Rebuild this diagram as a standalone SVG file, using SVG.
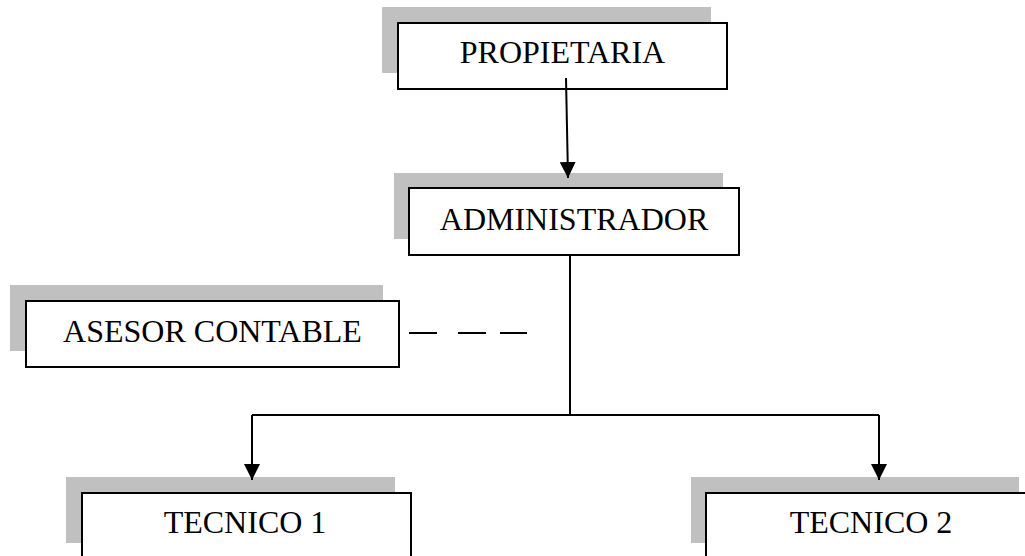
<svg xmlns="http://www.w3.org/2000/svg" width="1025" height="556" viewBox="0 0 1025 556">
  <style>
    .shadow { fill: #c0c0c0; stroke: none; }
    .box { fill: #ffffff; stroke: #000000; stroke-width: 2; }
    .label { font-family: "Liberation Serif", "Times New Roman", serif; font-size: 32px; fill: #000000; text-anchor: middle; }
    .conn { fill: none; stroke: #000000; stroke-width: 2; }
  </style>
  <defs>
    <marker id="arrow" markerUnits="userSpaceOnUse" markerWidth="16" markerHeight="16" refX="16" refY="8" orient="auto">
      <path d="M0,0 L16,8 L0,16 z" fill="#000000"/>
    </marker>
  </defs>
  <rect width="1025" height="556" fill="#ffffff"/>

  <g id="node-propietaria">
    <rect class="shadow" x="382" y="7" width="329" height="66"/>
    <rect class="box" x="398" y="23" width="329" height="66"/>
    <text class="label" x="562.5" y="63">PROPIETARIA</text>
  </g>

  <g id="node-administrador">
    <rect class="shadow" x="394" y="173" width="329" height="66"/>
    <rect class="box" x="409" y="188" width="330" height="67"/>
    <text class="label" x="574" y="230">ADMINISTRADOR</text>
  </g>

  <g id="node-asesor">
    <rect class="shadow" x="10" y="285" width="373" height="66"/>
    <rect class="box" x="26" y="301" width="373" height="66"/>
    <text class="label" x="212.5" y="342">ASESOR CONTABLE</text>
  </g>

  <g id="node-tecnico1">
    <rect class="shadow" x="66" y="477" width="329" height="66"/>
    <rect class="box" x="82" y="493" width="329" height="70"/>
    <text class="label" x="245" y="533">TECNICO 1</text>
  </g>

  <g id="node-tecnico2">
    <rect class="shadow" x="691" y="477" width="328" height="66"/>
    <rect class="box" x="706" y="493" width="329" height="70"/>
    <text class="label" x="871" y="533">TECNICO 2</text>
  </g>

  <g id="connectors">
    <path class="conn" d="M566,78 L568,178" marker-end="url(#arrow)"/>
    <path class="conn" d="M570,255 L570,415"/>
    <path class="conn" d="M252,415 L879,415"/>
    <path class="conn" d="M252,415 L252,480" marker-end="url(#arrow)"/>
    <path class="conn" d="M879,415 L879,480" marker-end="url(#arrow)"/>
    <path class="conn" d="M409,333 L437,333 M458,333 L486,333 M500,333 L527,333"/>
  </g>
</svg>
